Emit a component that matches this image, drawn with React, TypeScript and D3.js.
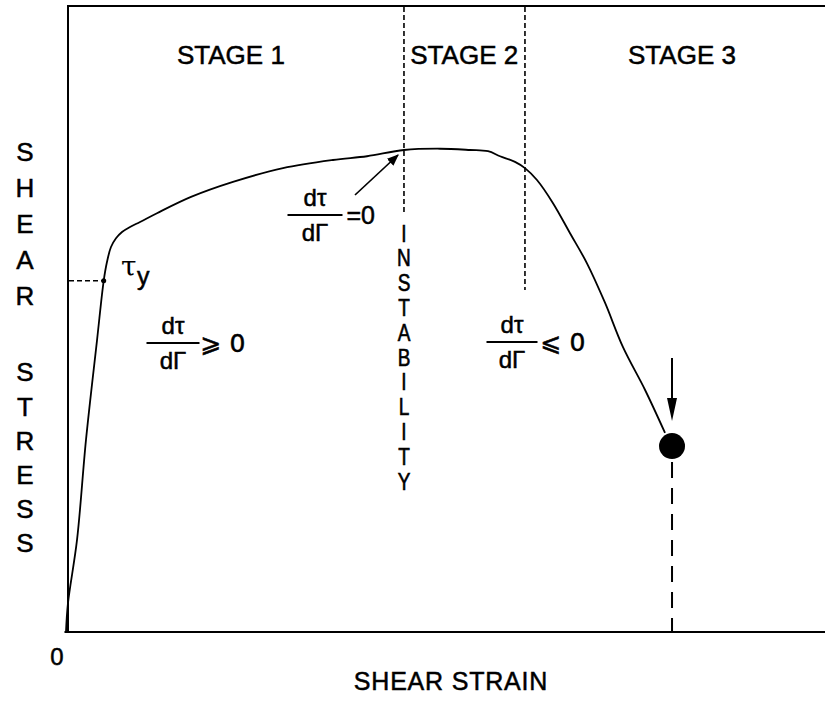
import React from "react";
import * as d3 from "d3";

// Curve (schematic units, % of frame)
const strain = [0, 0.26, 1.45, 2.63, 4.08, 4.96, 5.39, 5.92, 6.58, 7.37, 8.42, 9.74, 11.97, 16.45, 21.97, 28.55, 35.13, 39.61, 44.47, 49.21, 53.16, 55.53, 57.11, 59.08, 60.39, 61.97, 64.08, 66.32, 68.55, 70.92, 73.29, 76.18, 78.82];
const stress = [0, 4.6, 14.7, 30.7, 46.6, 56.1, 59.1, 61.5, 62.9, 63.9, 64.7, 65.5, 66.9, 69.5, 71.9, 74.1, 75.4, 76.0, 77.0, 77.2, 77.0, 76.8, 76.0, 75.1, 74.1, 72.2, 68.5, 63.7, 58.9, 52.6, 45.5, 38.7, 31.8];

const stageBounds = [44.47, 60.39];
const stageLabels = ["STAGE 1", "STAGE 2", "STAGE 3"];
const stageCenters = [21.7, 52.4, 81.05];
const yieldPoint = { strain: 4.96, stress: 56.1 };
const fracture = { strain: 79.74, stress: 29.7 };
const yLabelTop = ["S", "H", "E", "A", "R"];
const yLabelBottom = ["S", "T", "R", "E", "S", "S"];
const instability = "INSTABILITY".split("");

const W = 825;
const H = 704;
const FONT = "'Liberation Sans', Arial, sans-serif";
const TS = { stroke: "#000", strokeWidth: 0.5 };

export default function App() {
  const x = d3.scaleLinear().domain([0, 100]).range([66, 826]);
  const y = d3.scaleLinear().domain([0, 100]).range([632, 6]);
  const pts: [number, number][] = strain.map((s, i) => [s, stress[i]]);
  const line = d3
    .line<[number, number]>()
    .x((d) => x(d[0]))
    .y((d) => y(d[1]))
    .curve(d3.curveCatmullRom.alpha(0.5));

  const fx = x(fracture.strain);
  const fy = y(fracture.stress);
  const b1 = x(stageBounds[0]);
  const b2 = x(stageBounds[1]);

  const Frac = ({ cx, barY, w, right, rightDx, rightFont }: any) => (
    <g fontFamily={FONT} fontSize={24} fill="#000">
      <text x={cx} y={barY - 9} textAnchor="middle" {...TS}>dτ</text>
      <line x1={cx - w / 2} x2={cx + w / 2} y1={barY} y2={barY} stroke="#000" strokeWidth={1.8} />
      <text x={cx} y={barY + 26} textAnchor="middle" {...TS}>dΓ</text>
      <text x={cx + w / 2 + (rightDx || 3)} y={barY + 9} fontSize={25} fontFamily={rightFont || FONT} {...TS}>{right}</text>
    </g>
  );

  return (
    <svg
      width={W}
      height={H}
      style={{ position: "absolute", left: 0, top: 0, background: "#fff" }}
      fontFamily={FONT}
    >
      <rect width={W} height={H} fill="#fff" />
      <defs>
        <marker id="ah" viewBox="0 0 10 10" refX="9" refY="5" markerWidth="7" markerHeight="7" orient="auto">
          <path d="M0,1 L10,5 L0,9 z" fill="#000" />
        </marker>
      </defs>

      {/* frame */}
      <line x1={x(0) + 2} x2={W} y1={6} y2={6} stroke="#000" strokeWidth={2} />
      <line x1={68} x2={68} y1={5} y2={y(0)} stroke="#000" strokeWidth={2} />
      <line x1={x(-0.2)} x2={W} y1={y(0)} y2={y(0)} stroke="#000" strokeWidth={2.2} />

      {/* stage boundaries */}
      <line x1={b1} x2={b1} y1={7} y2={212} stroke="#000" strokeWidth={1.6} strokeDasharray="5 3" />
      <line x1={b2} x2={b2} y1={7} y2={290} stroke="#000" strokeWidth={1.6} strokeDasharray="5 3" />

      {/* stage labels */}
      {stageLabels.map((l, i) => (
        <text key={l} x={x(stageCenters[i])} y={64} textAnchor="middle" fontSize={26} fill="#000" {...TS}>
          {l}
        </text>
      ))}

      {/* yield dashed */}
      <line x1={69} x2={x(yieldPoint.strain)} y1={y(yieldPoint.stress)} y2={y(yieldPoint.stress)} stroke="#000" strokeWidth={1.6} strokeDasharray="5 3" />
      <circle cx={x(yieldPoint.strain)} cy={y(yieldPoint.stress)} r={2.5} fill="#000" />

      {/* curve */}
      <path d={line(pts) || ""} fill="none" stroke="#000" strokeWidth={1.8} />

      {/* fracture */}
      <circle cx={fx} cy={fy} r={13} fill="#000" />
      <line x1={fx} x2={fx} y1={fy + 16} y2={y(0) - 1} stroke="#000" strokeWidth={2} strokeDasharray="16 10" />
      <line x1={fx} x2={fx} y1={358} y2={400} stroke="#000" strokeWidth={2} />
      <path d={`M${fx - 5},${398} L${fx + 5},${398} L${fx},${421} z`} fill="#000" />

      {/* tau y */}
      <text x={121} y={276} fontSize={28} fontFamily="'DejaVu Serif', serif" fill="#000">τ</text>
      <text x={137} y={285} fontSize={25} fill="#000" {...TS}>y</text>

      {/* formulas */}
      <Frac cx={173} barY={343} w={53} right="⩾ 0" rightDx={1} rightFont="'DejaVu Sans', sans-serif" />
      <Frac cx={315} barY={215} w={55} right="=0" rightDx={4} />
      <Frac cx={512} barY={342} w={51} right="⩽ 0" rightDx={3} rightFont="'DejaVu Sans', sans-serif" />
      <line x1={355} y1={195} x2={398} y2={155} stroke="#000" strokeWidth={1.7} markerEnd="url(#ah)" />

      {/* INSTABILITY */}
      {instability.map((c, i) => (
        <text
          key={i}
          transform={`translate(${b1},${233 + i * 24.8}) scale(1,1.25)`}
          dy="0.36em"
          textAnchor="middle"
          fontSize={19}
          fill="#000"
          {...TS}
        >
          {c}
        </text>
      ))}

      {/* y label */}
      {yLabelTop.map((c, i) => (
        <text key={"t" + i} x={25} y={152 + i * 35.8} dy="0.36em" textAnchor="middle" fontSize={26} fill="#000" {...TS}>
          {c}
        </text>
      ))}
      {yLabelBottom.map((c, i) => (
        <text key={"b" + i} x={25} y={372 + i * 34.2} dy="0.36em" textAnchor="middle" fontSize={26} fill="#000" {...TS}>
          {c}
        </text>
      ))}

      {/* origin and x label */}
      <text x={57} y={665} textAnchor="middle" fontSize={24} fill="#000" {...TS}>0</text>
      <text x={451} y={690} textAnchor="middle" fontSize={25} letterSpacing={0.8} fill="#000" {...TS}>SHEAR STRAIN</text>
    </svg>
  );
}
